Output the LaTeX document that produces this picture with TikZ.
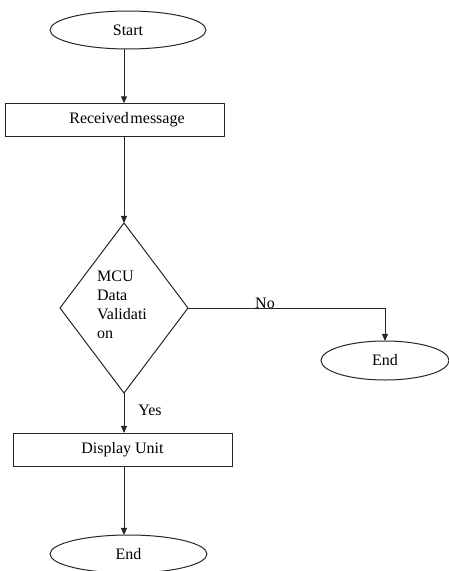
\documentclass[tikz,border=0pt]{standalone}
\usepackage{fontspec}
\setmainfont{Liberation Serif}
\usetikzlibrary{shapes.geometric,arrows.meta}

\tikzset{every picture/.style={line width=0.75pt}}
\tikzset{
  termnode/.style={draw=black!85, ellipse, inner sep=0pt, outer sep=0pt, minimum height=28.5pt, font=\fontsize{12}{14.4}\selectfont},
  procnode/.style={draw=black!85, rectangle, inner sep=0pt, outer sep=0pt, minimum width=164.25pt, minimum height=25pt, font=\fontsize{12}{14.4}\selectfont},
  decnode/.style={draw=black!85, diamond, inner sep=0pt, outer sep=0pt, minimum width=96pt, minimum height=127.5pt},
  dectext/.style={align=left, inner sep=0pt, font=\fontsize{12}{14.3}\selectfont},
  lbl/.style={inner sep=0pt, font=\fontsize{12}{14.4}\selectfont},
  conn/.style={draw=black!85, -{Triangle[length=5.3pt,width=4.5pt]}}
}

\begin{document}
\begin{tikzpicture}[x=0.75pt,y=0.75pt,yscale=-1,xscale=1]
\useasboundingbox (0,0) rectangle (449,571);

% Text Node
\node[termnode, minimum width=117pt] (start) at (128,30) {Start};
% Text Node
\node[procnode] (recv) at (114.5,120) {\hspace*{18.75pt}Received\hspace{0.1em}message};
% Text Node
\node[decnode] (valid) at (124,308) {};
\node[dectext] (validtxt) at (122,305) {MCU\\Data\\Validati\\on};
% Text Node
\node[termnode, minimum width=96pt, minimum height=29.25pt] (endno) at (385,360.5) {End};
% Text Node
\node[procnode, minimum height=24.75pt] (disp) at (122.5,449.5) {Display Unit};
% Text Node
\node[termnode, minimum width=117.75pt] (endyes) at (128.5,554) {End};
% Text Node
\node[lbl] (nolbl) at (265,303) {No};
\node[lbl] (yeslbl) at (150,410) {Yes};

% Connection
\draw[conn] (valid.north |- start.south) -- (valid.north |- recv.north);
% Connection
\draw[conn] (valid.north |- recv.south) -- (valid.north);
% Connection
\draw[conn] (valid.east) -| (endno.north);
% Connection
\draw[conn] (valid.south) -- (valid.south |- disp.north);
% Connection
\draw[conn] (valid.south |- disp.south) -- (valid.south |- endyes.north);

\end{tikzpicture}
\end{document}
